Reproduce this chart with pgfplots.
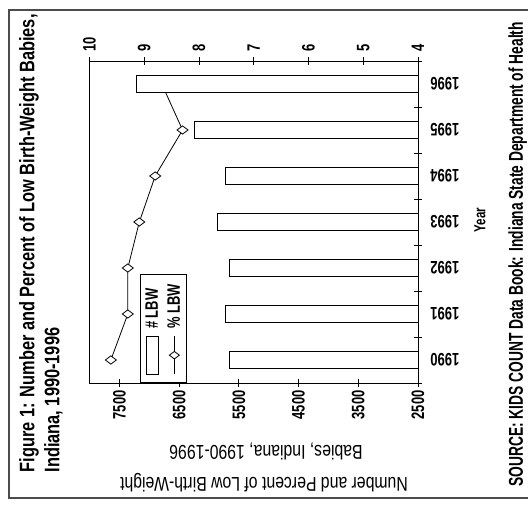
\documentclass[border=0pt]{standalone}
\usepackage{graphicx}
\usepackage{fontspec}
\setmainfont{Liberation Sans}[FakeStretch=0.72]
\newfontfamily\titlefont{Liberation Sans}[FakeStretch=0.78]
\newfontfamily\labfont{Liberation Sans}[FakeStretch=0.79]
\newfontfamily\srcfont{Liberation Sans}[FakeStretch=0.69]
\usepackage{pgfplots}
\pgfplotsset{compat=1.18}

\newcommand\ticklab{\fontsize{18}{20}\selectfont\bfseries}

\pgfplotsset{
  lbw frame/.style={
    at={(129pt,110pt)}, anchor=south west,
    scale only axis, width=322pt, height=328.5pt,
    xmin=1989.5, xmax=1996.5,
    tick align=center, major tick length=8pt, minor tick length=8pt,
    axis line style={line width=0.8pt, -},
    every tick/.style={black, line width=0.8pt},
    tick label style={font=\ticklab},
    /pgf/number format/.cd, 1000 sep={}, assume math mode=true,
  },
  pct legend/.style={
    legend image code/.code={
      \draw[black, line width=0.8pt] (2pt,0pt) -- (40pt,0pt);
      \draw[black, fill=white, line width=0.8pt]
        (21pt,5pt) -- (24.75pt,0pt) -- (21pt,-5pt) -- (17.25pt,0pt) -- cycle;}},
  nr legend/.style={
    legend image code/.code={
      \draw[black, fill=white, line width=0.8pt] (2pt,-6pt) rectangle (40pt,6pt);}},
}

\begin{document}
\rotatebox{90}{%
\begin{tikzpicture}
\useasboundingbox (0,0) rectangle (512pt,528pt);
\draw[line width=1.2pt, black!70] (14pt,-3pt) -- (14pt,519pt) -- (502pt,519pt) -- (502pt,-3pt);

% percent of LBW births, right axis (drawn first so the bars cover it)
\begin{axis}[lbw frame,
  ymin=4, ymax=10,
  axis x line=none, axis y line*=right,
  ytick={4,5,...,10},
  yticklabel style={anchor=west, xshift=2pt},
]
\addplot[black, line width=0.8pt, mark=diamond*, mark size=5.5pt,
  mark options={fill=white, line width=0.8pt}]
  coordinates {(1990,9.61) (1991,9.30) (1992,9.30) (1993,9.09) (1994,8.80) (1995,8.30) (1996,8.68)};
\end{axis}

% number of LBW babies, left axis
\begin{axis}[lbw frame,
  ymin=2500, ymax=8000,
  ytick={2500,3500,...,7500}, ytick pos=left,
  xtick={1990,...,1996}, xtick pos=bottom,
  minor xtick={1989.5,1990.5,...,1996.5},
  major x tick style={draw=none},
  xticklabel style={rotate=90, anchor=east},
  xticklabel shift=5pt,
  yticklabel style={anchor=east},
  legend style={at={(0,0.846)}, anchor=north west, draw=black, line width=0.8pt,
    font=\ticklab, inner xsep=8pt, inner ysep=3pt, row sep=4pt, cells={anchor=west},
    /tikz/every odd column/.append style={column sep=5pt}},
]
\addplot[ybar, bar width=17pt, bar shift=0pt, draw=black, fill=white, line width=0.8pt, nr legend]
  coordinates {(1990,5650) (1991,5720) (1992,5650) (1993,5860) (1994,5720) (1995,6240) (1996,7220)};
\addlegendentry{\# LBW}
\addlegendimage{pct legend}
\addlegendentry{\% LBW}
\end{axis}

\node[anchor=base west, font={\titlefont\fontsize{21}{24}\selectfont\bfseries}] at (36pt,493.5pt)
  {Figure 1: Number and Percent of Low Birth-Weight Babies,};
\node[anchor=base west, font={\titlefont\fontsize{21}{24}\selectfont\bfseries}] at (36pt,468.5pt)
  {Indiana, 1990-1996};
\node[rotate=90, anchor=base, font={\labfont\fontsize{20}{22}\selectfont}] at (35pt,264pt)
  {Number and Percent of Low Birth-Weight};
\node[rotate=90, anchor=base, font={\labfont\fontsize{20}{22}\selectfont}] at (67pt,262pt)
  {Babies, Indiana, 1990-1996};
\node[font={\fontsize{16}{18}\selectfont\bfseries}] at (292pt,48pt) {Year};
\node[anchor=base west, font={\srcfont\fontsize{20}{22}\selectfont\bfseries}] at (22pt,5pt)
  {SOURCE: KIDS COUNT Data Book: Indiana State Department of Health};
\end{tikzpicture}}
\end{document}
